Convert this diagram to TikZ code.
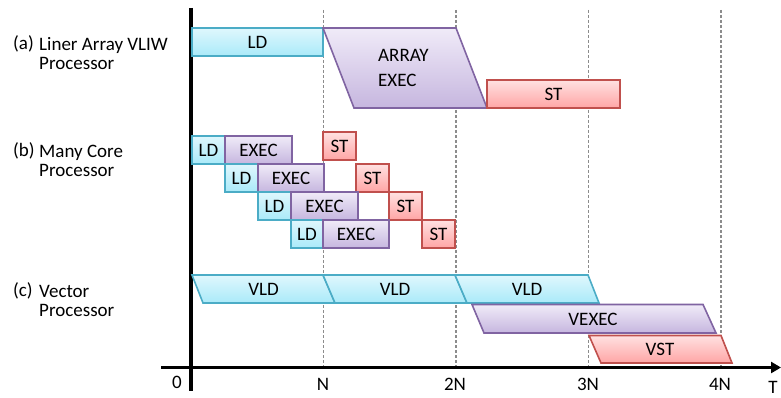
\documentclass[tikz,border=0pt]{standalone}
\usepackage{fontspec}
\setmainfont{Carlito}
\usetikzlibrary{arrows.meta}

\definecolor{ldtop}{HTML}{DFF7FD}
\definecolor{ldbot}{HTML}{AAEAF9}
\definecolor{ldline}{HTML}{4BACC6}
\definecolor{extop}{HTML}{F0EBF8}
\definecolor{exbot}{HTML}{C6B6DF}
\definecolor{exline}{HTML}{8064A2}
\definecolor{sttop}{HTML}{FFE1E1}
\definecolor{stbot}{HTML}{FFA5A5}
\definecolor{stline}{HTML}{C0504D}
\definecolor{gridgray}{HTML}{8C8C8C}

\begin{document}
\begin{tikzpicture}[x=1pt,y=-1pt,
  every node/.style={font=\fontsize{19}{19}\selectfont, inner sep=0pt},
  ldbox/.style={draw=ldline, line width=1.6pt, top color=ldtop, bottom color=ldbot, line join=miter},
  exbox/.style={draw=exline, line width=1.6pt, top color=extop, bottom color=exbot, line join=miter},
  stbox/.style={draw=stline, line width=1.6pt, top color=sttop, bottom color=stbot, line join=miter},
  gridline/.style={draw=gridgray, line width=1.3pt, dash pattern=on 3pt off 2pt},
  axis/.style={draw=black, line width=3.6pt},
  tick/.style={anchor=center},
  rowlabel/.style={anchor=west, align=left}]

\useasboundingbox (0,0) rectangle (781,398);

% time grid
\foreach \gx/\gn in {323.5/gN, 456/gtwoN, 588.5/gthreeN, 721/gfourN}{
  \coordinate (\gn top) at (\gx,10);
  \coordinate (\gn bot) at (\gx,367);
  \draw[gridline] (\gn top) -- (\gn bot);
}

% axes
\coordinate (yaxtop) at (191,8);
\coordinate (yaxbot) at (191,391);
\coordinate (xaxl) at (161,367.5);
\coordinate (xaxr) at (781,367.5);
\draw[axis] (yaxtop) -- (yaxbot);
\draw[axis, -{Triangle[length=10pt,width=11pt]}] (xaxl) -- (xaxr);

\node[tick] (t0) at (177,382) {0};
\node[tick] (tN) at (323,384) {N};
\node[tick] (t2N) at (455,384) {2N};
\node[tick] (t3N) at (588,384) {3N};
\node[tick] (t4N) at (720,384) {4N};
\node[tick] (tT) at (773,387) {T};

% row labels
\node[rowlabel] (la) at (13,44) {(a)};
\node[rowlabel] (lat) at (39,54) {Liner Array VLIW\\Processor};
\node[rowlabel] (lb) at (13,151) {(b)};
\node[rowlabel] (lbt) at (39,161) {Many Core\\Processor};
\node[rowlabel] (lc) at (13,291) {(c)};
\node[rowlabel] (lct) at (39,301) {Vector\\Processor};

% (a) linear array VLIW
\path[ldbox] (192,28) rectangle (323,56);
\node (ald) at (257.5,42) {LD};
\path[exbox] (323,28) -- (456,28) -- (487,108) -- (354,108) -- cycle;
\node[anchor=west, align=left, font=\fontsize{19}{25}\selectfont] (aex) at (378,67.5) {ARRAY\\EXEC};
\path[stbox] (487,80) rectangle (620,108);
\node (ast) at (553.5,94) {ST};

% (b) many core
\path[ldbox] (192,136) rectangle (225,164);
\node (b1ld) at (208.5,150) {LD};
\path[exbox] (225,136) rectangle (292,164);
\node (b1ex) at (258.5,150) {EXEC};
\path[stbox] (323,132) rectangle (356,160);
\node (b1st) at (339.5,146) {ST};

\path[ldbox] (225,164) rectangle (258,192);
\node (b2ld) at (241.5,178) {LD};
\path[exbox] (258,164) rectangle (324,192);
\node (b2ex) at (291,178) {EXEC};
\path[stbox] (356,164) rectangle (389,192);
\node (b2st) at (372.5,178) {ST};

\path[ldbox] (258,192) rectangle (291,220);
\node (b3ld) at (274.5,206) {LD};
\path[exbox] (291,192) rectangle (358,220);
\node (b3ex) at (324.5,206) {EXEC};
\path[stbox] (389,192) rectangle (422,220);
\node (b3st) at (405.5,206) {ST};

\path[ldbox] (291,220) rectangle (323,248);
\node (b4ld) at (307,234) {LD};
\path[exbox] (323,220) rectangle (389,248);
\node (b4ex) at (356,234) {EXEC};
\path[stbox] (422,220) rectangle (455,248);
\node (b4st) at (438.5,234) {ST};

% (c) vector
\path[ldbox] (192,275) -- (323,275) -- (335,303) -- (203,303) -- cycle;
\node (cld1) at (263.5,289.5) {VLD};
\path[ldbox] (323,275) -- (455,275) -- (467,303) -- (335,303) -- cycle;
\node (cld2) at (395,289.5) {VLD};
\path[ldbox] (455,275) -- (588,275) -- (599,303) -- (467,303) -- cycle;
\node (cld3) at (527,289.5) {VLD};
\path[exbox] (472,304.5) -- (703,304.5) -- (716,333) -- (484,333) -- cycle;
\node (cex) at (593,319) {VEXEC};
\path[stbox] (589,335.5) -- (721,335.5) -- (732,363) -- (601,363) -- cycle;
\node (cst) at (660,349) {VST};

\end{tikzpicture}
\end{document}
